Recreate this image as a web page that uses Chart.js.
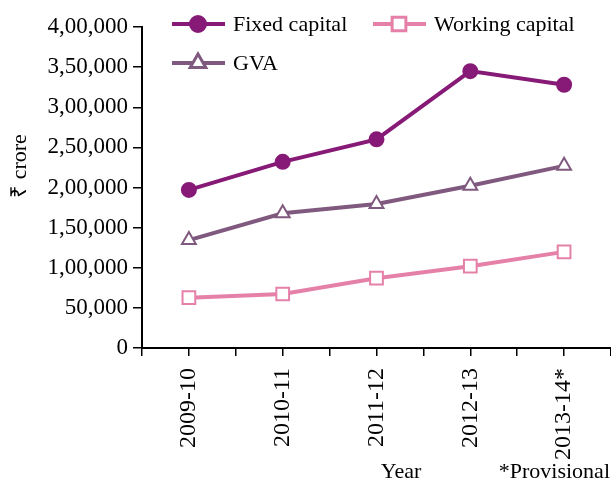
<!DOCTYPE html>
<html>
<head>
<meta charset="utf-8">
<script src="https://cdn.jsdelivr.net/npm/chart.js@4/dist/chart.umd.min.js"></script>
<style>
  html, body { margin: 0; padding: 0; background: #fff; }
  #wrap { position: relative; width: 611px; height: 484px; }
</style>
</head>
<body>
<div id="wrap"><canvas id="c" width="611" height="484"></canvas></div>
<script>
const categories = ['2009-10', '2010-11', '2011-12', '2012-13', '2013-14*'];
const fixedCapital = [197000, 232000, 260000, 345000, 328000];
const workingCapital = [62700, 67300, 87000, 102000, 119800];
const gva = [134500, 167800, 179500, 202200, 227000];
const yTickLabels = ['0', '50,000', '1,00,000', '1,50,000', '2,00,000', '2,50,000', '3,00,000', '3,50,000', '4,00,000'];
const seriesNames = ['Fixed capital', 'Working capital', 'GVA'];
const yTitle = '₹ crore';
const xTitle = 'Year';
const footNote = '*Provisional';

const FONT = '"Liberation Serif", "Times New Roman", serif';
const toPoints = arr => arr.map((v, i) => ({ x: i, y: v }));

const overlay = {
  id: 'overlay',
  afterDraw(chart) {
    const ctx = chart.ctx;
    const ds = chart.data.datasets;
    const items = [
      { d: ds[0], x: 172, y: 24 },
      { d: ds[1], x: 373, y: 24 },
      { d: ds[2], x: 172, y: 63 }
    ];
    ctx.save();
    items.forEach(it => {
      const d = it.d;
      ctx.strokeStyle = d.borderColor;
      ctx.lineWidth = 4;
      ctx.beginPath();
      ctx.moveTo(it.x, it.y);
      ctx.lineTo(it.x + 53, it.y);
      ctx.stroke();
      Chart.helpers.drawPoint(ctx, {
        pointStyle: d.pointStyle,
        radius: d.pointRadius,
        borderWidth: d.pointBorderWidth,
        rotation: 0
      }, it.x + 26, it.y);
      ctx.fillStyle = d.pointBackgroundColor;
      ctx.strokeStyle = d.pointBorderColor;
      ctx.lineWidth = d.pointBorderWidth;
      ctx.fill();
      ctx.stroke();
      ctx.fillStyle = '#000';
      ctx.font = '22px ' + FONT;
      ctx.textBaseline = 'middle';
      ctx.textAlign = 'left';
      ctx.fillText(d.label, it.x + 61, it.y + 1);
    });
    ctx.save();
    ctx.translate(20, 166);
    ctx.rotate(-Math.PI / 2);
    ctx.font = '22px ' + FONT;
    ctx.textAlign = 'center';
    ctx.textBaseline = 'middle';
    ctx.fillStyle = '#000';
    ctx.fillText(yTitle, 0, 0);
    ctx.restore();
    ctx.font = '22px ' + FONT;
    ctx.fillStyle = '#000';
    ctx.textBaseline = 'middle';
    ctx.textAlign = 'center';
    ctx.fillText(xTitle, 401, 472);
    ctx.textAlign = 'right';
    ctx.fillText(footNote, 610, 472);
    ctx.restore();
  }
};

const mk = (label, data, color, style, fill, radius) => ({
  label,
  data: toPoints(data),
  borderColor: color,
  backgroundColor: color,
  borderWidth: 4,
  tension: 0,
  pointStyle: style,
  pointRadius: radius,
  pointHoverRadius: radius,
  pointBackgroundColor: fill,
  pointBorderColor: color,
  pointBorderWidth: 2
});

new Chart(document.getElementById('c'), {
  type: 'line',
  data: {
    datasets: [
      mk(seriesNames[0], fixedCapital, '#861a76', 'circle', '#861a76', 7),
      mk(seriesNames[1], workingCapital, '#e581a8', 'rect', '#ffffff', 9),
      mk(seriesNames[2], gva, '#80597f', 'triangle', '#ffffff', 8)
    ]
  },
  options: {
    responsive: false,
    animation: false,
    events: [],
    layout: { autoPadding: false, padding: { top: 27, right: 0, left: 0, bottom: 0 } },
    plugins: { legend: { display: false }, tooltip: { enabled: false } },
    scales: {
      x: {
        type: 'linear',
        min: -0.5,
        max: 4.5,
        afterFit: s => { s.height = 136; s.paddingLeft = 0; s.paddingRight = 0; },
        ticks: {
          stepSize: 0.5,
          autoSkip: false,
          maxRotation: 90,
          minRotation: 90,
          padding: 12,
          color: '#000',
          font: { family: FONT, size: 24 },
          callback: v => Number.isInteger(v) ? categories[v] : ''
        },
        grid: { drawOnChartArea: false, tickLength: 8, color: '#000', lineWidth: 1.5 },
        border: { color: '#000', width: 2 }
      },
      y: {
        min: 0,
        max: 400000,
        afterFit: s => { s.width = 142; s.paddingTop = 0; s.paddingBottom = 0; },
        ticks: {
          stepSize: 50000,
          padding: 5,
          color: '#000',
          font: { family: FONT, size: 23 },
          callback: v => yTickLabels[Math.round(v / 50000)]
        },
        grid: { drawOnChartArea: false, tickLength: 9, color: '#000', lineWidth: 1.5 },
        border: { color: '#000', width: 2 }
      }
    }
  },
  plugins: [overlay]
});
</script>
</body>
</html>
